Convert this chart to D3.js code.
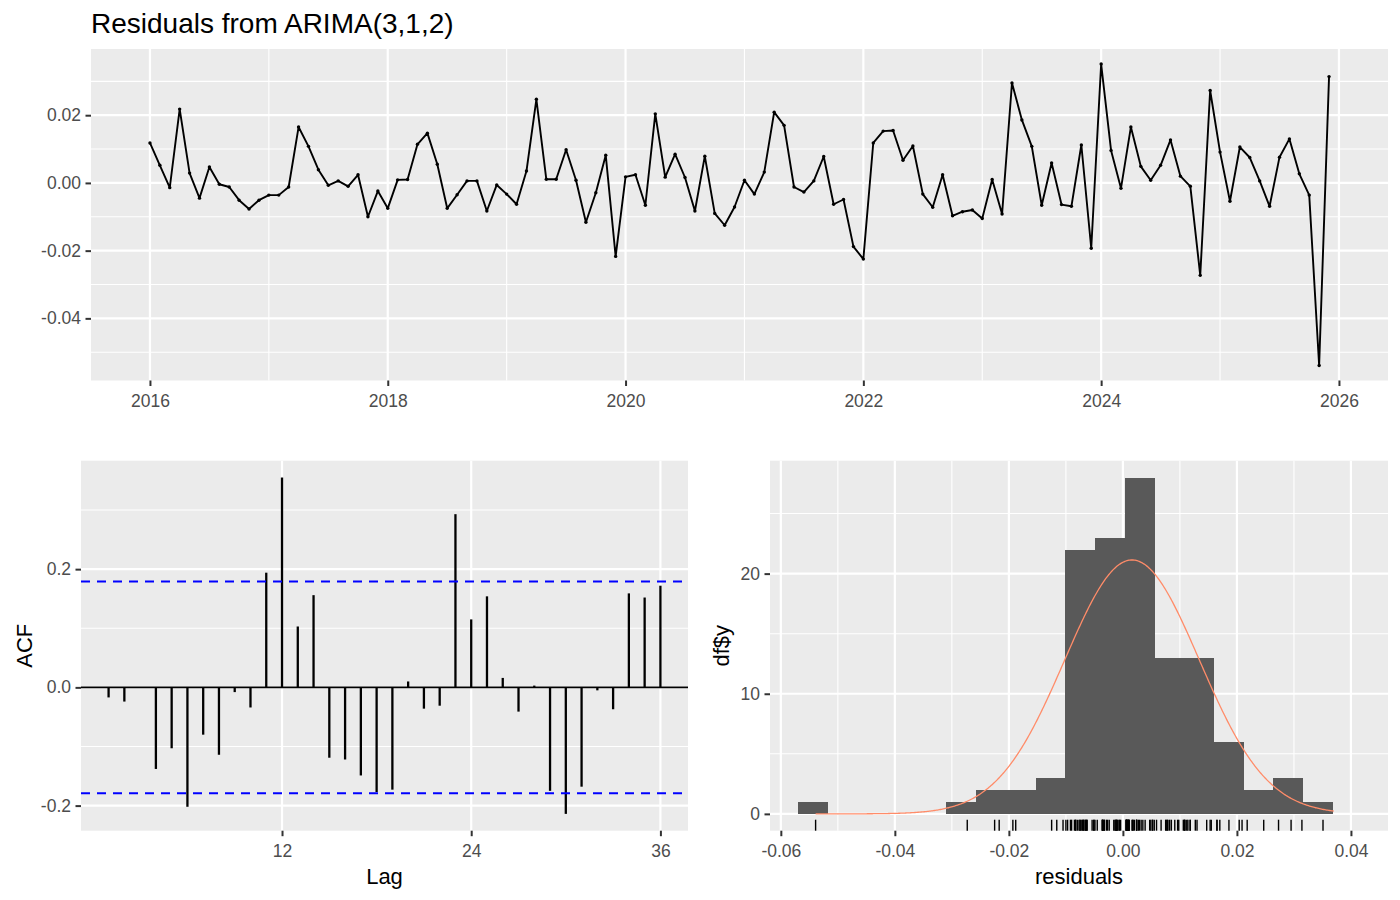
<!DOCTYPE html>
<html>
<head>
<meta charset="utf-8">
<script src="https://cdn.jsdelivr.net/npm/d3@7"></script>
<style>
  body { margin: 0; background: #fff; }
  svg text { font-family: "Liberation Sans", Arial, sans-serif; }
</style>
</head>
<body>
<svg id="chart" width="1400" height="900"></svg>
<script>
// residuals, monthly from Jan 2016
var tsStart = 2016;
var tsFreq = 12;
var resid = [
  0.0118, 0.0052, -0.0014, 0.0218, 0.0029, -0.0045, 0.0047, -0.0004, -0.0012, -0.0051, -0.0077, -0.0051,
  -0.0036, -0.0036, -0.0012, 0.0165, 0.0108, 0.0039, -0.0007, 0.0006, -0.0010, 0.0024, -0.0100, -0.0024,
  -0.0075, 0.0009, 0.0010, 0.0114, 0.0147, 0.0055, -0.0075, -0.0035, 0.0006, 0.0006, -0.0083, -0.0006,
  -0.0033, -0.0063, 0.0035, 0.0247, 0.0011, 0.0011, 0.0098, 0.0008, -0.0116, -0.0029, 0.0082, -0.0217,
  0.0018, 0.0024, -0.0066, 0.0204, 0.0017, 0.0085, 0.0016, -0.0083, 0.0079, -0.0090, -0.0125, -0.0071,
  0.0008, -0.0033, 0.0032, 0.0209, 0.0170, -0.0012, -0.0027, 0.0006, 0.0078, -0.0063, -0.0049, -0.0188,
  -0.0225, 0.0118, 0.0153, 0.0155, 0.0067, 0.0109, -0.0033, -0.0072, 0.0024, -0.0097, -0.0085, -0.0080,
  -0.0105, 0.0010, -0.0092, 0.0295, 0.0186, 0.0108, -0.0066, 0.0059, -0.0064, -0.0069, 0.0112, -0.0193,
  0.0351, 0.0096, -0.0016, 0.0165, 0.0049, 0.0008, 0.0052, 0.0127, 0.0020, -0.0010, -0.0273, 0.0273,
  0.0091, -0.0054, 0.0106, 0.0075, 0.0006, -0.0069, 0.0076, 0.0130, 0.0027, -0.0036, -0.0539, 0.0314
];

var acfVals = [
  -0.017, -0.024, -0.001, -0.138, -0.103, -0.202, -0.080, -0.114, -0.008, -0.034, 0.194, 0.355,
  0.103, 0.156, -0.119, -0.122, -0.149, -0.177, -0.173, 0.010, -0.036, -0.031, 0.293, 0.115,
  0.154, 0.016, -0.041, 0.003, -0.175, -0.214, -0.168, -0.005, -0.037, 0.159, 0.152, 0.172
];
var ciLimit = 0.179;

var binStart = -0.0570;
var binWidth = 0.00521;
var binCounts = [1, 0, 0, 0, 0, 1, 2, 2, 3, 22, 23, 28, 13, 13, 6, 2, 3, 1];
var normMean = 0.0016;
var normSd = 0.0118;

var topXTicks = [2016, 2018, 2020, 2022, 2024, 2026];
var topXMinor = [2017, 2019, 2021, 2023, 2025];
var topYTicks = [-0.04, -0.02, 0, 0.02];
var topYMinor = [-0.05, -0.03, -0.01, 0.01, 0.03];
var acfXTicks = [12, 24, 36];
var acfYTicks = [-0.2, 0, 0.2];
var acfYMinor = [-0.1, 0.1, 0.3];
var histXTicks = [-0.06, -0.04, -0.02, 0, 0.02, 0.04];
var histXMinor = [-0.05, -0.03, -0.01, 0.01, 0.03];
var histYTicks = [0, 10, 20];
var histYMinor = [5, 15, 25];

var svg = d3.select("#chart");

function expand(ext, m) {
  var d = (ext[1] - ext[0]) * m;
  return [ext[0] - d, ext[1] + d];
}

// R prints a plain hyphen, not the unicode minus d3 uses
function fmt(spec) {
  var f = d3.format(spec);
  return function(v) { return f(v).replace("\u2212", "-"); };
}

// ggplot-like panel: background, grid, ticks, labels
function panel(x, y, opt) {
  var x0 = x.range()[0], x1 = x.range()[1];
  var y0 = y.range()[0], y1 = y.range()[1];
  var g = svg.append("g");
  g.append("rect").attr("x", x0).attr("y", y1)
    .attr("width", x1 - x0).attr("height", y0 - y1).attr("fill", "#EBEBEB");
  (opt.yMinor || []).forEach(function(v) {
    g.append("line").attr("x1", x0).attr("x2", x1).attr("y1", y(v)).attr("y2", y(v))
      .attr("stroke", "#fff").attr("stroke-width", 1.1);
  });
  (opt.xMinor || []).forEach(function(v) {
    g.append("line").attr("y1", y0).attr("y2", y1).attr("x1", x(v)).attr("x2", x(v))
      .attr("stroke", "#fff").attr("stroke-width", 1.1);
  });
  opt.yTicks.forEach(function(v) {
    g.append("line").attr("x1", x0).attr("x2", x1).attr("y1", y(v)).attr("y2", y(v))
      .attr("stroke", "#fff").attr("stroke-width", 2.2);
  });
  opt.xTicks.forEach(function(v) {
    g.append("line").attr("y1", y0).attr("y2", y1).attr("x1", x(v)).attr("x2", x(v))
      .attr("stroke", "#fff").attr("stroke-width", 2.2);
  });

  var xAxis = d3.axisBottom(x).tickValues(opt.xTicks).tickSize(5.5).tickPadding(4)
    .tickFormat(opt.xFmt);
  var ax = svg.append("g").attr("transform", "translate(0," + y0 + ")").call(xAxis);
  var yAxis = d3.axisLeft(y).tickValues(opt.yTicks).tickSize(5.5).tickPadding(4.5)
    .tickFormat(opt.yFmt);
  var ay = svg.append("g").attr("transform", "translate(" + x0 + ",0)").call(yAxis);
  [ax, ay].forEach(function(a) {
    a.select(".domain").remove();
    a.selectAll(".tick line").attr("stroke", "#333333").attr("stroke-width", 2);
    a.selectAll(".tick text").attr("fill", "#4D4D4D").style("font-size", "17.5px");
  });
  ax.selectAll(".tick text").attr("dy", "0.95em");

  if (opt.xTitle) {
    svg.append("text").attr("x", (x0 + x1) / 2).attr("y", 884)
      .attr("text-anchor", "middle").style("font-size", "22px").attr("fill", "#000")
      .text(opt.xTitle);
  }
  if (opt.yTitle) {
    svg.append("text")
      .attr("transform", "translate(" + opt.yTitleX + "," + (y0 + y1) / 2 + ") rotate(-90)")
      .attr("text-anchor", "middle").style("font-size", "22px").attr("fill", "#000")
      .text(opt.yTitle);
  }
  return g;
}

// ---- top: residual time series ----
var tsData = resid.map(function(v, i) { return { t: tsStart + i / tsFreq, v: v }; });
var xTop = d3.scaleLinear()
  .domain(expand(d3.extent(tsData, function(d) { return d.t; }), 0.05))
  .range([91, 1388]);
var yTop = d3.scaleLinear()
  .domain(expand(d3.extent(resid), 0.05))
  .range([380.5, 49]);

var gTop = panel(xTop, yTop, {
  xTicks: topXTicks, xMinor: topXMinor, yTicks: topYTicks, yMinor: topYMinor,
  xFmt: fmt("d"), yFmt: fmt(".2f")
});

gTop.append("path").datum(tsData)
  .attr("fill", "none").attr("stroke", "#000").attr("stroke-width", 1.9)
  .attr("stroke-linejoin", "round")
  .attr("d", d3.line().x(function(d) { return xTop(d.t); }).y(function(d) { return yTop(d.v); }));
gTop.selectAll("circle").data(tsData).enter().append("circle")
  .attr("cx", function(d) { return xTop(d.t); })
  .attr("cy", function(d) { return yTop(d.v); })
  .attr("r", 1.7).attr("fill", "#000");

svg.append("text").attr("x", 91).attr("y", 33).style("font-size", "28px")
  .attr("fill", "#000").text("Residuals from ARIMA(3,1,2)");

// ---- bottom left: ACF ----
var lags = acfVals.map(function(v, i) { return i + 1; });
var xAcf = d3.scaleLinear().domain(expand(d3.extent(lags), 0.05)).range([81, 688]);
var yAcf = d3.scaleLinear().domain(expand(d3.extent(acfVals), 0.05)).range([830.7, 460.7]);

var gAcf = panel(xAcf, yAcf, {
  xTicks: acfXTicks, yTicks: acfYTicks, yMinor: acfYMinor,
  xFmt: fmt("d"), yFmt: fmt(".1f"),
  xTitle: "Lag", yTitle: "ACF", yTitleX: 31.5
});

gAcf.append("line").attr("x1", 81).attr("x2", 688)
  .attr("y1", yAcf(0)).attr("y2", yAcf(0)).attr("stroke", "#000").attr("stroke-width", 1.8);
gAcf.selectAll(".bar").data(acfVals).enter().append("line")
  .attr("x1", function(d, i) { return xAcf(lags[i]); })
  .attr("x2", function(d, i) { return xAcf(lags[i]); })
  .attr("y1", yAcf(0))
  .attr("y2", function(d) { return yAcf(d); })
  .attr("stroke", "#000").attr("stroke-width", 2.3);
[ciLimit, -ciLimit].forEach(function(c) {
  gAcf.append("line").attr("x1", 81).attr("x2", 688)
    .attr("y1", yAcf(c)).attr("y2", yAcf(c))
    .attr("stroke", "#0000FF").attr("stroke-width", 1.9).attr("stroke-dasharray", "9,7");
});

// ---- bottom right: histogram ----
var xHist = d3.scaleLinear().domain([-0.0619, 0.0465]).range([770, 1388]);
var yHist = d3.scaleLinear().domain(expand([0, d3.max(binCounts)], 0.05)).range([830.7, 460.7]);

var gHist = panel(xHist, yHist, {
  xTicks: histXTicks, xMinor: histXMinor, yTicks: histYTicks, yMinor: histYMinor,
  xFmt: fmt(".2f"), yFmt: fmt("d"),
  xTitle: "residuals", yTitle: "df$y", yTitleX: 729
});

gHist.selectAll(".hbar").data(binCounts).enter().append("rect")
  .attr("x", function(d, i) { return xHist(binStart + i * binWidth); })
  .attr("width", function(d, i) { return xHist(binStart + (i + 1) * binWidth) - xHist(binStart + i * binWidth) + 0.6; })
  .attr("y", function(d) { return yHist(d); })
  .attr("height", function(d) { return yHist(0) - yHist(d); })
  .attr("fill", "#595959")
  .attr("shape-rendering", "crispEdges");

// normal density scaled to counts
var nRes = resid.length;
var cMin = d3.min(resid), cMax = normMean + 3 * normSd;
var curve = d3.range(0, 512).map(function(k) {
  var xv = cMin + (cMax - cMin) * k / 511;
  var z = (xv - normMean) / normSd;
  return { x: xv, y: nRes * binWidth * Math.exp(-0.5 * z * z) / (normSd * Math.sqrt(2 * Math.PI)) };
});
gHist.append("path").datum(curve)
  .attr("fill", "none").attr("stroke", "#FF8C69").attr("stroke-width", 1.3)
  .attr("d", d3.line().x(function(d) { return xHist(d.x); }).y(function(d) { return yHist(d.y); }));

// rug
gHist.selectAll(".rug").data(resid).enter().append("line")
  .attr("x1", function(d) { return xHist(d); })
  .attr("x2", function(d) { return xHist(d); })
  .attr("y1", 830.7).attr("y2", 830.7 - 11)
  .attr("stroke", "#000").attr("stroke-width", 1.4);
</script>
</body>
</html>
